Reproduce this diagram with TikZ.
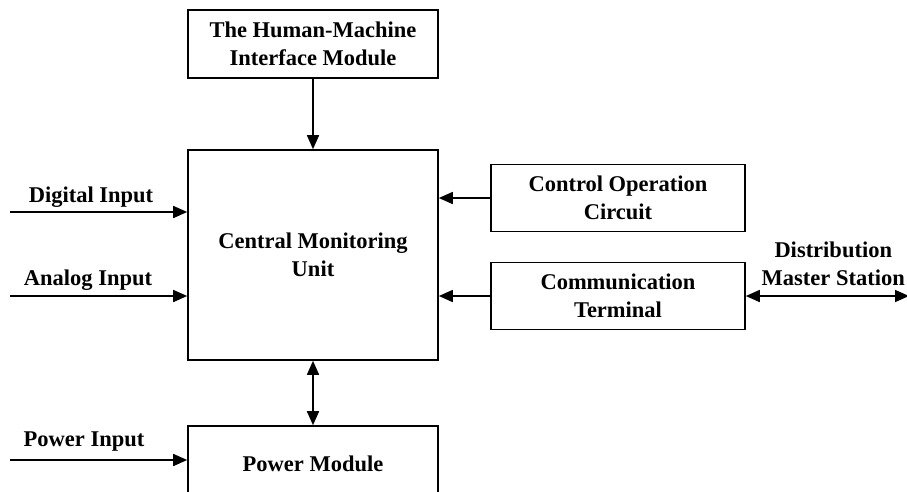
\documentclass[tikz,border=0pt]{standalone}
\usepackage{fontspec}
\setmainfont{Liberation Serif}
\usetikzlibrary{arrows.meta}
\begin{document}
\begin{tikzpicture}[x=1pt,y=-1pt,
  every node/.style={font=\fontsize{22.5}{28}\selectfont\bfseries, align=center},
  block/.style={draw, line width=1.6pt, inner sep=0pt},
  label/.style={inner sep=0pt},
  link/.style={line width=1.6pt, -{Triangle[length=14pt,width=12pt]}},
  dlink/.style={line width=1.6pt, {Triangle[length=14pt,width=12pt]}-{Triangle[length=14pt,width=12pt]}}]
\useasboundingbox (0,0) rectangle (907,491);
\clip (0,0) rectangle (907,491);

% blocks
\node[block, minimum width=250pt, minimum height=68pt] (hmi) at (313,44) {The Human-Machine\\Interface Module};
\node[block, minimum width=250pt, minimum height=210pt] (cmu) at (313,255) {Central Monitoring\\Unit};
\node[block, minimum width=250pt, minimum height=80pt] (pm) at (313,466) {\raisebox{4pt}{Power Module}};
\node[block, minimum width=254pt, minimum height=67pt] (coc) at (618,198) {Control Operation\\Circuit};
\node[block, minimum width=254pt, minimum height=67pt] (ct) at (618,296) {Communication\\Terminal};

% free ends of the input lines
\coordinate (din) at (10,212);
\coordinate (ain) at (10,296);
\coordinate (pin) at (10,460);
\coordinate (dms) at (909,296);

% labels
\node[label] (dl) at (91,197) {Digital Input};
\node[label] (al) at (88,280) {Analog Input};
\node[label] (pl) at (84,442) {Power Input};
\node[label, anchor=east] (ml) at (905,264) {Distribution\\Master Station};

% connectors
\draw[link] (hmi.south) -- (cmu.north);
\draw[dlink] (cmu.south) -- (pm.north);
\draw[link] (din) -- (din -| cmu.west);
\draw[link] (ain) -- (ain -| cmu.west);
\draw[link] (pin) -- (pin -| pm.west);
\draw[link] (coc.west) -- (coc.west -| cmu.east);
\draw[link] (ct.west) -- (ct.west -| cmu.east);
\draw[dlink] (ct.east) -- (dms);
\end{tikzpicture}
\end{document}
